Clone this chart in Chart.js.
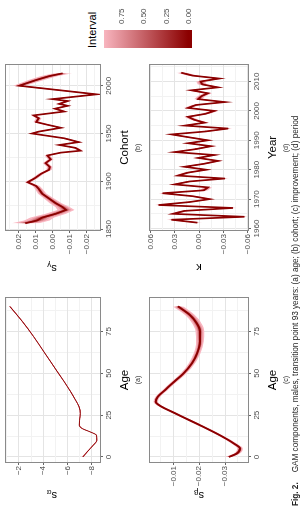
<!DOCTYPE html>
<html>
<head>
<meta charset="utf-8">
<script src="https://cdn.jsdelivr.net/npm/chart.js@4.4.0/dist/chart.umd.min.js"></script>
<style>
  html, body { margin: 0; padding: 0; background: #fff; overflow: hidden; }
  /* the whole figure is laid out landscape and turned a quarter left */
  #page {
    position: absolute; left: 0; top: 0; width: 511px; height: 301px;
    transform-origin: 0 0; transform: translate(0, 511px) rotate(-90deg);
    font-family: "Liberation Sans", Arial, sans-serif; background: #fff;
  }
  #page canvas { position: absolute; }
  .sub { position: absolute; font-size: 7px; color: #333; transform: translate(-50%, -50%); white-space: nowrap; }
  .ytitle { position: absolute; font-size: 11px; color: #000; transform: translate(-50%, -50%) rotate(-90deg); white-space: nowrap; }
  .ytitle sub { font-size: 8px; vertical-align: -2px; }
  #legTitle { position: absolute; left: 463px; top: 86px; font-size: 11px; color: #000; }
  #legBar { position: absolute; left: 463px; top: 104px; width: 18px; height: 88px; }
  .legLab { position: absolute; left: 487px; font-size: 8px; color: #4d4d4d; transform: translateY(-50%); }
  #caption { position: absolute; left: 5px; top: 291px; font-size: 8.2px; color: #222; white-space: nowrap; }
  #caption b { margin-right: 10px; }
</style>
</head>
<body>
<div id="page">
  <canvas id="chartA" width="230" height="146" style="left:0;top:0"></canvas>
  <canvas id="chartB" width="230" height="146" style="left:230px;top:0"></canvas>
  <canvas id="chartC" width="230" height="150" style="left:0;top:140px"></canvas>
  <canvas id="chartD" width="230" height="150" style="left:230px;top:140px"></canvas>

  <div class="ytitle" style="left:16px;top:52px">s<sub>α</sub></div>
  <div class="ytitle" style="left:243px;top:52px">s<sub>γ</sub></div>
  <div class="ytitle" style="left:16px;top:199px">s<sub>β</sub></div>
  <div class="ytitle" style="left:243px;top:199px">κ</div>

  <div class="sub" style="left:131px;top:137px">(a)</div>
  <div class="sub" style="left:363px;top:137px">(b)</div>
  <div class="sub" style="left:131px;top:285px">(c)</div>
  <div class="sub" style="left:363px;top:285px">(d)</div>

  <div id="legTitle">Interval</div>
  <div id="legBar"></div>
  <div id="legLabels"></div>

  <div id="caption"><b>Fig. 2.</b>GAM components, males, transition point 93 years: (a) age; (b) cohort; (c) improvement; (d) period</div>
</div>

<script>
// ---- data ----
const ageA = [0, 3, 7, 10, 13, 15, 17, 19, 22, 26, 30, 34, 39, 45, 52, 62, 72, 81, 90];
const sAlpha = [-7.25, -7.6, -8.1, -8.4, -8.37, -7.85, -7.2, -6.96, -6.98, -7.04, -6.94, -6.65, -6.25, -5.72, -5.06, -4.13, -3.2, -2.28, -1.25];
const sAlphaHalf = [0.08, 0.06, 0.05, 0.05, 0.05, 0.05, 0.05, 0.05, 0.04, 0.04, 0.04, 0.04, 0.04, 0.04, 0.04, 0.04, 0.04, 0.05, 0.06];

const ageC = [0, 2, 5, 8, 13, 19, 24, 27, 30, 33, 36, 40, 44, 50, 56, 62, 69, 75, 80, 85, 90];
const sBeta = [-0.0315, -0.0345, -0.0358, -0.0335, -0.028, -0.0203, -0.0135, -0.0095, -0.0055, -0.0032, -0.0040, -0.0068, -0.0096, -0.014, -0.0172, -0.0192, -0.0203, -0.0203, -0.019, -0.0163, -0.0118];
const sBetaHalf = [0.0014, 0.0012, 0.0011, 0.001, 0.0009, 0.0009, 0.0009, 0.0009, 0.0009, 0.0009, 0.0009, 0.001, 0.001, 0.0011, 0.0012, 0.0013, 0.0015, 0.0017, 0.0018, 0.0019, 0.002];

const cohort = [1856, 1859, 1862, 1866, 1870, 1873, 1877, 1882, 1887, 1892, 1895, 1899, 1903, 1908, 1912, 1915, 1919, 1923, 1927, 1930, 1932, 1935, 1938, 1941, 1945, 1950, 1952, 1956, 1959, 1962, 1966, 1969, 1973, 1976, 1979, 1981, 1984, 1986, 1991, 2000, 2006, 2010, 2013];
const sGamma = [0.016, 0.009, 0.006, -0.002, -0.008, -0.006, -0.002, 0.002, 0.006, 0.008, 0.0095, 0.0145, 0.0105, 0.0065, 0.002, 0.0015, 0.004, 0.001, 0.003, -0.005, -0.0165, -0.0135, -0.004, -0.0155, -0.007, 0.012, 0.008, -0.005, 0.0025, 0.0095, 0.008, 0.011, -0.007, -0.0015, -0.009, -0.004, -0.009, 0.0, -0.026, 0.0195, 0.0095, 0.002, -0.006];
const sGammaHalf = [0.008, 0.0075, 0.007, 0.006, 0.005, 0.0042, 0.0035, 0.003, 0.0025, 0.0022, 0.002, 0.0018, 0.0017, 0.0016, 0.0016, 0.0016, 0.0016, 0.0016, 0.0016, 0.0016, 0.0016, 0.0016, 0.0016, 0.0016, 0.0016, 0.0016, 0.0016, 0.0016, 0.0016, 0.0016, 0.0016, 0.0016, 0.0017, 0.0017, 0.0018, 0.0018, 0.0019, 0.002, 0.0024, 0.0035, 0.0045, 0.005, 0.0055];

const years = [1962, 1963, 1964, 1965, 1966, 1967, 1968, 1969, 1970, 1971, 1972, 1973, 1974, 1975, 1976, 1977, 1978, 1979, 1980, 1981, 1982, 1983, 1984, 1985, 1986, 1987, 1988, 1989, 1990, 1991, 1992, 1993, 1994, 1995, 1996, 1997, 1998, 1999, 2000, 2001, 2002, 2003, 2004, 2005, 2006, 2007, 2008, 2009, 2010, 2011, 2012, 2013];
const kappa = [0.002, 0.034, -0.056, 0.032, 0.018, -0.042, 0.050, 0.012, -0.013, 0.008, 0.045, -0.006, -0.011, 0.030, 0.012, -0.032, 0.026, 0.014, -0.009, 0.018, -0.006, -0.0235, 0.001, -0.019, 0.030, 0.004, -0.015, 0.0135, -0.011, 0.012, 0.034, -0.008, -0.036, 0.0175, -0.007, 0.006, 0.0135, -0.008, -0.019, 0.0135, 0.004, -0.032, 0.001, -0.003, -0.011, 0.0095, -0.0235, -0.004, -0.002, -0.025, 0.008, 0.022];
const kappaHalf = [0.0065, 0.006, 0.0055, 0.0055, 0.0055, 0.005, 0.005, 0.005, 0.005, 0.005, 0.005, 0.005, 0.005, 0.005, 0.005, 0.005, 0.005, 0.005, 0.005, 0.005, 0.005, 0.005, 0.005, 0.005, 0.005, 0.005, 0.005, 0.005, 0.005, 0.005, 0.005, 0.005, 0.005, 0.005, 0.005, 0.005, 0.005, 0.005, 0.005, 0.005, 0.005, 0.005, 0.005, 0.005, 0.005, 0.005, 0.005, 0.0055, 0.0055, 0.006, 0.006, 0.0065];

// tick labels
const ageTicks = [0, 25, 50, 75];
const cohortTicks = [1850, 1900, 1950, 2000];
const yearTicks = [1960, 1970, 1980, 1990, 2000, 2010];
const sAlphaTicks = [-8, -6, -4, -2];
const sGammaTicks = [-0.02, -0.01, 0, 0.01, 0.02];
const sBetaTicks = [-0.03, -0.02, -0.01];
const kappaTicks = [-0.06, -0.03, 0, 0.03, 0.06];

// interval levels of the fan and the legend
const levels = [0.95, 0.8, 0.6, 0.4, 0.2];
const levelWidth = [1, 0.65, 0.43, 0.27, 0.13];
const legendTicks = [0.75, 0.5, 0.25, 0];

// ---- styling helpers ----
const DARK = [139, 0, 0];
const PINK = [255, 192, 203];
function mix(p) {
  const c = DARK.map((d, i) => Math.round(d + (PINK[i] - d) * p));
  return `rgb(${c[0]},${c[1]},${c[2]})`;
}
const minus = '\u2212';
function fmt(v, dec) {
  const s = Math.abs(v).toFixed(dec);
  return (v < -1e-12 ? minus : '') + s;
}
function withMinors(majors, min, max) {
  const step = majors[1] - majors[0];
  const out = majors.slice();
  for (let m = majors[0] - step / 2; m <= majors[majors.length - 1] + step; m += step) {
    if (m >= min && m <= max) out.push(+m.toFixed(6));
  }
  return out.sort((a, b) => a - b);
}
const isMajor = (majors, v) => majors.some(m => Math.abs(m - v) < 1e-9);

Chart.defaults.font.family = '"Liberation Sans", Arial, sans-serif';

function fanDatasets(xs, ys, half, lineWidth, smooth) {
  const interp = smooth ? { cubicInterpolationMode: 'monotone' } : { tension: 0 };
  const sets = [Object.assign({
    data: xs.map((x, i) => ({ x, y: ys[i] })),
    borderColor: mix(0), borderWidth: lineWidth, pointRadius: 0, fill: false
  }, interp)];
  // inner bands first so that outer (lighter) bands are painted underneath
  for (let k = levels.length - 1; k >= 0; k--) {
    const w = levelWidth[k];
    sets.push(Object.assign({
      data: xs.map((x, i) => ({ x, y: ys[i] + half[i] * w })),
      borderWidth: 0, borderColor: 'transparent', pointRadius: 0, fill: false
    }, interp));
    sets.push(Object.assign({
      data: xs.map((x, i) => ({ x, y: ys[i] - half[i] * w })),
      borderWidth: 0, borderColor: 'transparent', pointRadius: 0,
      fill: '-1', backgroundColor: mix(levels[k])
    }, interp));
  }
  return sets;
}

function axis(majors, min, max, dec, extra) {
  const all = withMinors(majors, min, max);
  return Object.assign({
    type: 'linear', min, max,
    afterBuildTicks: s => { s.ticks = all.map(v => ({ value: v })); },
    ticks: {
      autoSkip: false, maxRotation: 0, padding: 1,
      font: { size: 8 }, color: '#4d4d4d',
      callback: v => isMajor(majors, v) ? fmt(v, dec) : ''
    },
    grid: {
      color: c => isMajor(majors, c.tick.value) ? '#e4e4e4' : '#f2f2f2',
      tickColor: c => isMajor(majors, c.tick.value) ? '#666' : 'rgba(0,0,0,0)',
      tickLength: 3, lineWidth: 1
    },
    border: { display: false }
  }, extra);
}

const frame = {
  id: 'frame',
  afterDatasetsDraw(chart) {
    const { ctx, chartArea: a } = chart;
    ctx.save();
    ctx.strokeStyle = '#8a8a8a';
    ctx.lineWidth = 1;
    ctx.strokeRect(Math.round(a.left) - 0.5, Math.round(a.top) - 0.5,
      Math.round(a.right - a.left) + 1, Math.round(a.bottom - a.top) + 1);
    ctx.restore();
  }
};

function makePanel(id, cfg) {
  new Chart(document.getElementById(id), {
    type: 'line',
    data: { datasets: fanDatasets(cfg.xs, cfg.ys, cfg.half, cfg.lineWidth, cfg.smooth) },
    options: {
      responsive: false, animation: false,
      layout: { padding: cfg.padding },
      plugins: { legend: { display: false }, tooltip: { enabled: false } },
      scales: {
        x: axis(cfg.xTicks, cfg.xMin, cfg.xMax, 0, {
          position: 'bottom',
          title: { display: true, text: cfg.xTitle, color: '#000', font: { size: 11.5 }, padding: { top: 0, bottom: cfg.titlePad } },
          afterFit: s => { s.height = cfg.xHeight; }
        }),
        y: axis(cfg.yTicks, cfg.yMin, cfg.yMax, cfg.yDec, {
          position: 'left',
          afterFit: s => { s.width = cfg.yWidth; }
        })
      }
    },
    plugins: [frame]
  });
}

makePanel('chartA', {
  xs: ageA, ys: sAlpha, half: sAlphaHalf, lineWidth: 0.9, smooth: true,
  xTicks: ageTicks, xMin: -3, xMax: 95, xTitle: 'Age',
  yTicks: sAlphaTicks, yMin: -8.66, yMax: -0.92, yDec: 0,
  padding: { left: 0, top: 3, right: 17, bottom: 0 }, yWidth: 49, xHeight: 46, titlePad: 14
});
makePanel('chartB', {
  xs: cohort, ys: sGamma, half: sGammaHalf, lineWidth: 1.7, smooth: false,
  xTicks: cohortTicks, xMin: 1849, xMax: 2021.7, xTitle: 'Cohort',
  yTicks: sGammaTicks, yMin: -0.028, yMax: 0.0274, yDec: 2,
  padding: { left: 0, top: 3, right: 14, bottom: 0 }, yWidth: 51, xHeight: 46, titlePad: 14
});
makePanel('chartC', {
  xs: ageC, ys: sBeta, half: sBetaHalf, lineWidth: 1.9, smooth: true,
  xTicks: ageTicks, xMin: -3, xMax: 95, xTitle: 'Age',
  yTicks: sBetaTicks, yMin: -0.0389, yMax: -0.00097, yDec: 2,
  padding: { left: 0, top: 10, right: 17, bottom: 0 }, yWidth: 49, xHeight: 42, titlePad: 10
});
makePanel('chartD', {
  xs: years, ys: kappa, half: kappaHalf, lineWidth: 1.7, smooth: false,
  xTicks: yearTicks, xMin: 1959.5, xMax: 2015.6, xTitle: 'Year',
  yTicks: kappaTicks, yMin: -0.0605, yMax: 0.0605, yDec: 2,
  padding: { left: 0, top: 10, right: 14, bottom: 0 }, yWidth: 51, xHeight: 42, titlePad: 10
});

// colour bar legend
const barTop = 104, barBottom = 192, zeroY = 188, perUnit = 89.3;
const vTop = (zeroY - barTop) / perUnit;
document.getElementById('legBar').style.background =
  `linear-gradient(to bottom, ${mix(vTop)} 0%, ${mix(0)} ${((zeroY - barTop) / (barBottom - barTop) * 100).toFixed(1)}%, ${mix(0)} 100%)`;
const labBox = document.getElementById('legLabels');
legendTicks.forEach(v => {
  const d = document.createElement('div');
  d.className = 'legLab';
  d.style.top = (zeroY - v * perUnit) + 'px';
  d.textContent = v.toFixed(2);
  labBox.appendChild(d);
});
</script>
</body>
</html>
